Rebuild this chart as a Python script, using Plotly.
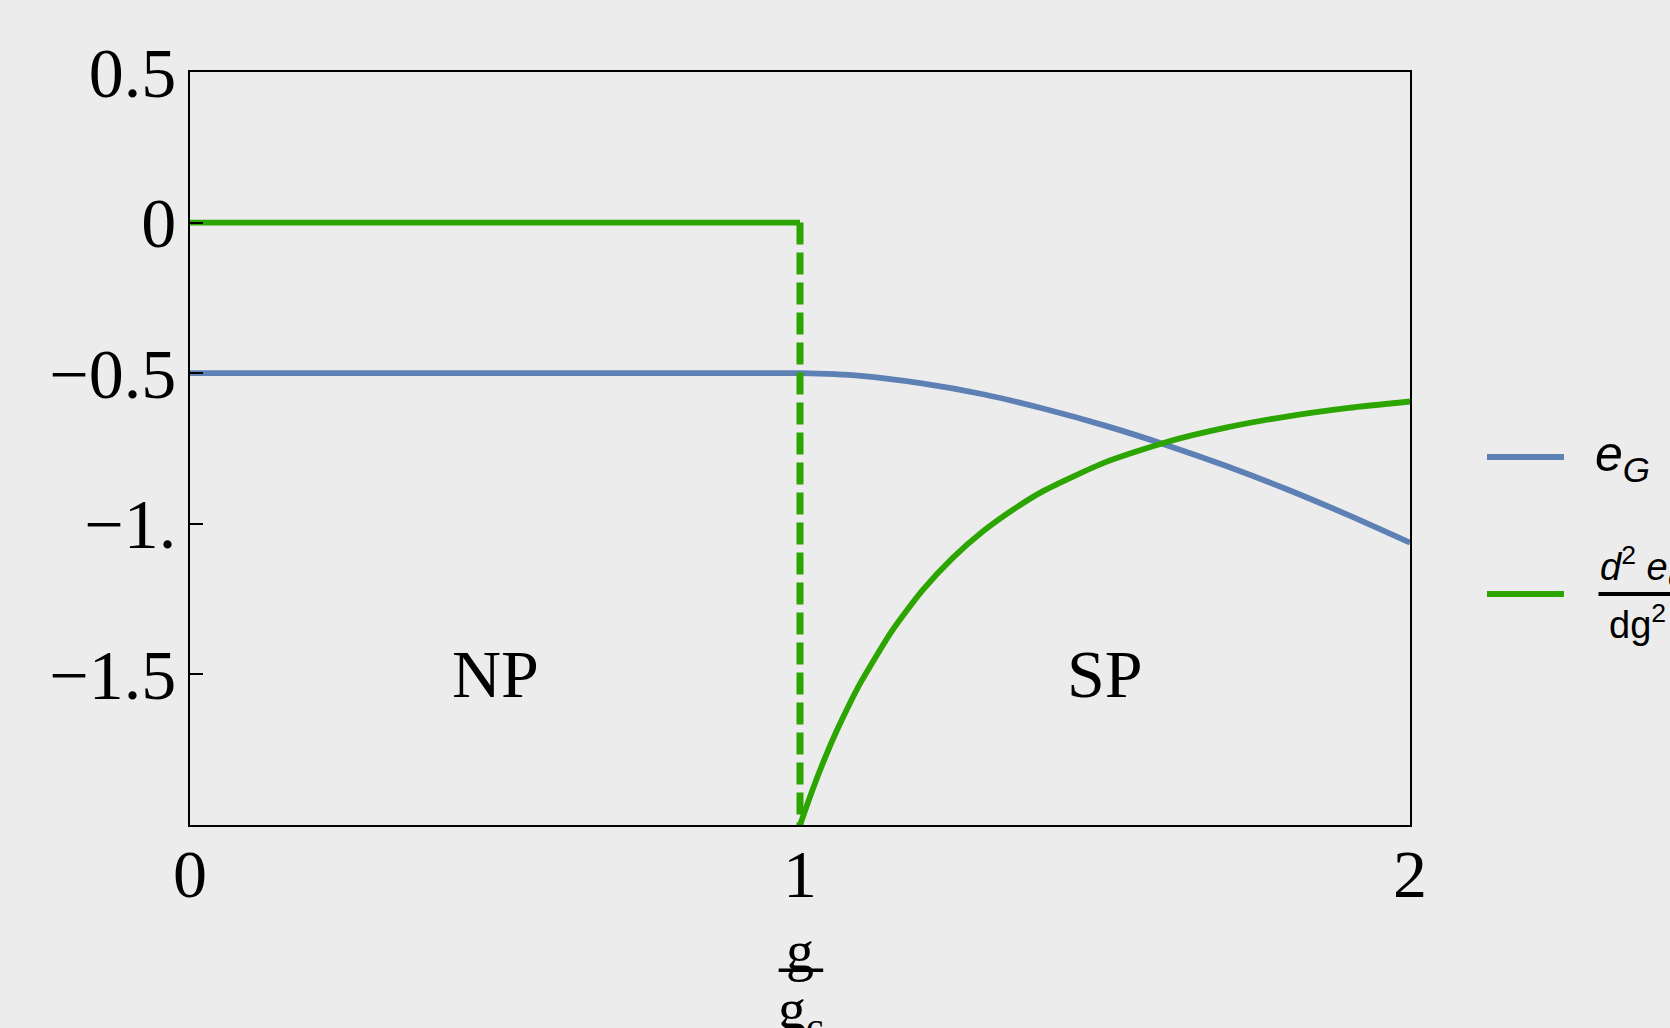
import plotly.graph_objects as go

# Ground-state energy e_G versus coupling g/g_c
g_np = [0.0, 1.0]
eg_np = [-0.5, -0.5]
g_sp = [1.0, 1.1, 1.2, 1.3, 1.4, 1.5, 1.6, 1.7, 1.8, 1.9, 2.0]
eg_sp = [-0.5, -0.509, -0.534, -0.570, -0.618, -0.674, -0.738, -0.809, -0.887, -0.972, -1.0625]

# Second derivative d^2 e_G / dg^2
d2_np = [0.0, 0.0]
g_d2 = [1.0, 1.02, 1.04, 1.06, 1.08, 1.1, 1.15, 1.2, 1.25, 1.3, 1.35, 1.4, 1.5,
        1.6, 1.7, 1.8, 1.9, 2.0]
d2_sp = [-2.0, -1.886, -1.782, -1.688, -1.603, -1.525, -1.358, -1.223, -1.114,
         -1.025, -0.952, -0.890, -0.796, -0.729, -0.680, -0.643, -0.615, -0.594]

y_ticks = [0.5, 0.0, -0.5, -1.0, -1.5]
y_tick_text = ["0.5", "0", "\u22120.5", "\u22121.", "\u22121.5"]
x_ticks = [0, 1, 2]
x_tick_text = ["0", "1", "2"]

phase_labels = ["NP", "SP"]
phase_x = [0.5, 1.5]
phase_y = [-1.5, -1.5]

BLUE = "#5E81B5"
GREEN = "#2CA500"
BG = "#ECECEC"
SERIF = "Liberation Serif"

fig = go.Figure()

fig.add_trace(go.Scatter(x=g_np + g_sp[1:], y=eg_np + eg_sp[1:], mode="lines",
                         line=dict(color=BLUE, width=5.8, shape="spline", smoothing=0.6),
                         showlegend=False, hoverinfo="skip"))
fig.add_trace(go.Scatter(x=g_np, y=d2_np, mode="lines",
                         line=dict(color=GREEN, width=5.8),
                         showlegend=False, hoverinfo="skip"))
# discontinuity at the transition point
fig.add_trace(go.Scatter(x=[g_np[-1], g_d2[0]], y=[d2_np[-1], d2_sp[0]], mode="lines",
                         line=dict(color=GREEN, width=7, dash="22px,8px"),
                         showlegend=False, hoverinfo="skip"))
fig.add_trace(go.Scatter(x=g_d2, y=d2_sp, mode="lines",
                         line=dict(color=GREEN, width=5.8, shape="spline", smoothing=0.6),
                         showlegend=False, hoverinfo="skip"))

for lab, x, y in zip(phase_labels, phase_x, phase_y):
    fig.add_annotation(x=x, y=y, xref="x", yref="y", text=lab, showarrow=False,
                       font=dict(family=SERIF, size=68, color="black"))

# axis title as a stacked fraction g / g_c
fig.add_annotation(x=1, y=-0.167, xref="x", yref="paper", text="g", showarrow=False,
                   font=dict(family=SERIF, size=56, color="black"), yanchor="middle")
fig.add_shape(type="line", xref="x", yref="paper", x0=0.9650, x1=1.0380,
              y0=-0.193, y1=-0.193, line=dict(color="black", width=3.5))
fig.add_annotation(x=1, y=-0.25, xref="x", yref="paper", text="g<sub>c</sub>",
                   showarrow=False, font=dict(family=SERIF, size=56, color="black"),
                   yanchor="middle")

# legend drawn beside the frame
fig.add_shape(type="line", xref="paper", yref="paper", x0=1.0631, x1=1.1262,
              y0=0.4887, y1=0.4887, line=dict(color=BLUE, width=5.8))
fig.add_shape(type="line", xref="paper", yref="paper", x0=1.0631, x1=1.1262,
              y0=0.3068, y1=0.3068, line=dict(color=GREEN, width=5.8))
fig.add_annotation(x=1.150, y=0.4887, xref="paper", yref="paper",
                   text="<i>e</i><sub><i>G</i></sub>", showarrow=False,
                   xanchor="left", yanchor="middle",
                   font=dict(family="Liberation Sans", size=50, color="black"))
fig.add_annotation(x=1.1545, y=0.343, xref="paper", yref="paper",
                   text="<i>d</i><sup>2</sup> <i>e</i><sub><i>G</i></sub>",
                   showarrow=False, xanchor="left", yanchor="middle",
                   font=dict(family="Liberation Sans", size=38, color="black"))
fig.add_shape(type="line", xref="paper", yref="paper", x0=1.1545, x1=1.25,
              y0=0.3068, y1=0.3068, line=dict(color="black", width=4))
fig.add_annotation(x=1.1867, y=0.270, xref="paper", yref="paper",
                   text="dg<sup>2</sup>", showarrow=False,
                   xanchor="center", yanchor="middle",
                   font=dict(family="Liberation Sans", size=38, color="black"))

fig.update_xaxes(range=[0, 2], tickvals=x_ticks, ticktext=x_tick_text,
                 showgrid=False, zeroline=False, showline=True, mirror=True,
                 linecolor="black", linewidth=1.5, ticks="", ticklabelstandoff=-11,
                 tickfont=dict(family=SERIF, size=68, color="black"))
fig.update_yaxes(range=[-2, 0.5], tickvals=y_ticks, ticktext=y_tick_text,
                 showgrid=False, zeroline=False, showline=True, mirror=True,
                 linecolor="black", linewidth=1.5, ticks="inside", ticklen=13,
                 tickwidth=1.5, tickcolor="black", ticklabelstandoff=-2,
                 tickfont=dict(family=SERIF, size=70, color="black"))

fig.update_layout(width=1670, height=1028, paper_bgcolor=BG, plot_bgcolor=BG,
                  margin=dict(l=190, r=260, t=72, b=203), showlegend=False)

fig.write_html("out.html")
